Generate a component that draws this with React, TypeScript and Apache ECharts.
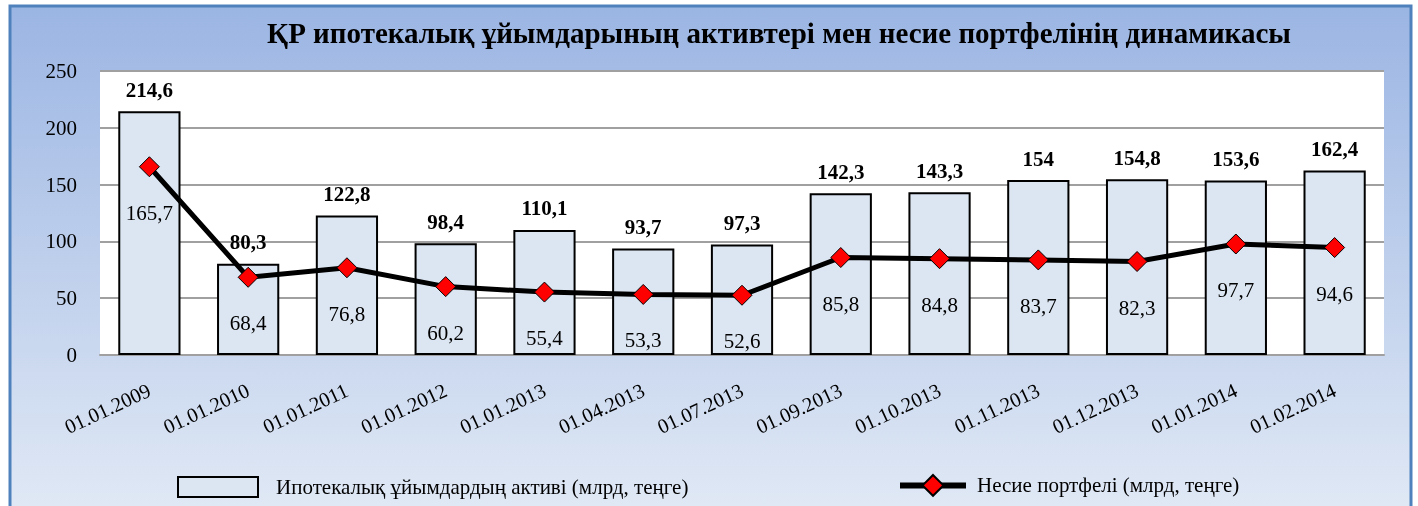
import React, { useEffect, useRef } from "react";
import * as echarts from "echarts";

const titleText = "ҚР ипотекалық ұйымдарының активтері мен несие портфелінің динамикасы";
const categories = [
  "01.01.2009", "01.01.2010", "01.01.2011", "01.01.2012", "01.01.2013", "01.04.2013",
  "01.07.2013", "01.09.2013", "01.10.2013", "01.11.2013", "01.12.2013", "01.01.2014", "01.02.2014",
];
const assetsName = "Ипотекалық ұйымдардың активі (млрд, теңге)";
const assets = [214.6, 80.3, 122.8, 98.4, 110.1, 93.7, 97.3, 142.3, 143.3, 154, 154.8, 153.6, 162.4];
const loansName = "Несие портфелі (млрд, теңге)";
const loans = [165.7, 68.4, 76.8, 60.2, 55.4, 53.3, 52.6, 85.8, 84.8, 83.7, 82.3, 97.7, 94.6];
const yTicks = { min: 0, max: 250, interval: 50 };

const FONT = "'Liberation Serif', 'Times New Roman', serif";
const fmt = (v: number) => String(v).replace(".", ",");

export default function App() {
  const ref = useRef<HTMLDivElement>(null);
  useEffect(() => {
    if (!ref.current) return;
    const chart = echarts.init(ref.current, undefined, { renderer: "svg" });
    chart.setOption({
      animation: false,
      textStyle: { fontFamily: FONT },
      graphic: [
        {
          type: "rect",
          z: -10,
          silent: true,
          shape: { x: 10, y: 6, width: 1401, height: 510 },
          style: {
            fill: new echarts.graphic.LinearGradient(0, 0, 0, 1, [
              { offset: 0, color: "#9BB5E3" },
              { offset: 1, color: "#E1E9F5" },
            ]),
            stroke: "#4F81BD",
            lineWidth: 3,
          },
        },
      ],
      title: {
        text: titleText,
        left: 774,
        textAlign: "center",
        top: 13,
        textStyle: { fontFamily: FONT, fontSize: 29, fontWeight: "bold", color: "#000" },
      },
      grid: {
        left: 100,
        right: 34,
        top: 71,
        bottom: 151,
        show: true,
        backgroundColor: "#FFFFFF",
        borderWidth: 0,
        containLabel: false,
      },
      legend: [
        {
          data: [{ name: assetsName, icon: "rect" }],
          left: 177,
          top: 476,
          padding: 0,
          itemWidth: 80,
          itemHeight: 20,
          textStyle: { fontFamily: FONT, fontSize: 21, color: "#000", padding: [0, 0, 0, 13] },
        },
        {
          data: [loansName],
          left: 897,
          top: 474,
          padding: 0,
          itemWidth: 66,
          itemHeight: 26,
          lineStyle: { width: 6, color: "#000" },
          textStyle: { fontFamily: FONT, fontSize: 21, color: "#000", padding: [0, 0, 0, 6] },
        },
      ],
      xAxis: {
        type: "category",
        data: categories,
        axisLine: { lineStyle: { color: "#A0A0A0", width: 2 } },
        axisTick: { show: false },
        axisLabel: {
          rotate: 25,
          margin: 34,
          fontFamily: FONT,
          fontSize: 20.5,
          color: "#000",
          interval: 0,
        },
      },
      yAxis: {
        type: "value",
        min: yTicks.min,
        max: yTicks.max,
        interval: yTicks.interval,
        axisLine: { show: false },
        axisTick: { show: false },
        axisLabel: { margin: 23, fontFamily: FONT, fontSize: 21, color: "#000" },
        splitLine: { lineStyle: { color: "#A0A0A0", width: 2 } },
      },
      series: [
        {
          name: assetsName,
          type: "bar",
          data: assets,
          barWidth: "63%",
          itemStyle: { color: "#DCE6F2", borderColor: "#000", borderWidth: 2 },
          label: {
            show: true,
            position: "top",
            distance: 11,
            formatter: (p: any) => fmt(p.value),
            fontFamily: FONT,
            fontSize: 21,
            fontWeight: "bold",
            color: "#000",
          },
        },
        {
          name: loansName,
          type: "line",
          data: loans,
          symbol: "diamond",
          symbolSize: 20,
          lineStyle: { color: "#000", width: 5 },
          itemStyle: { color: "#FF0000", borderColor: "#000", borderWidth: 1 },
          label: {
            show: true,
            position: "bottom",
            distance: 25,
            formatter: (p: any) => fmt(p.value),
            fontFamily: FONT,
            fontSize: 21,
            color: "#000",
          },
          z: 5,
        },
      ],
    });
    return () => chart.dispose();
  }, []);
  return (
    <div
      ref={ref}
      style={{ position: "fixed", left: 0, top: 0, width: 1418, height: 506 }}
    />
  );
}
